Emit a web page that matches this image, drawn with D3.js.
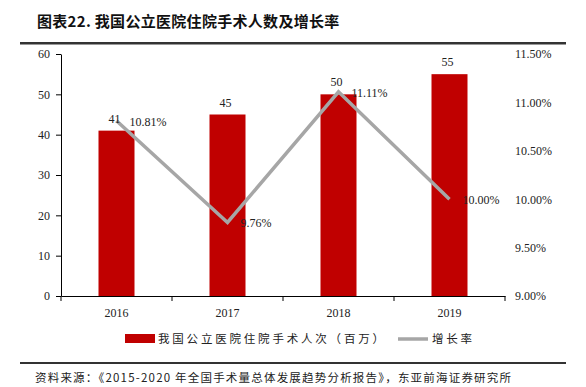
<!DOCTYPE html>
<html><head><meta charset="utf-8">
<script src="https://cdn.jsdelivr.net/npm/d3@7"></script>
<style>body{margin:0;background:#fff}svg{display:block}</style>
</head><body>
<script>
const categories = ["2016","2017","2018","2019"];
const surgeries = [41,45,50,55];
const growth = [10.81,9.76,11.11,10.00];
const leftTicks = [0,10,20,30,40,50,60];
const rightTicks = [9.0,9.5,10.0,10.5,11.0,11.5];
const titleText = "图表22. 我国公立医院住院手术人数及增长率";
const seriesNames = ["我国公立医院住院手术人次（百万）","增长率"];
const sourceText = "资料来源：《2015-2020 年全国手术量总体发展趋势分析报告》，东亚前海证券研究所";

const W=586,H=387;
const svg=d3.select("body").append("svg").attr("width",W).attr("height",H);
const serif="'Liberation Serif','Times New Roman',serif";
const cjk="'Noto Sans CJK SC',sans-serif";
const m={l:61,r:505,t:54,b:296};

// title
svg.append("text").attr("x",37).attr("y",27).attr("font-family",cjk).attr("font-weight","bold")
  .attr("font-size",15).attr("letter-spacing",0.3).attr("fill","#111").text(titleText);
svg.append("rect").attr("x",20).attr("y",42).attr("width",546).attr("height",2.5).attr("fill","#333");

const x=d3.scaleBand().domain(categories).range([m.l,m.r]);
const y=d3.scaleLinear().domain([0,60]).range([m.b,m.t]);
const y2=d3.scaleLinear().domain([9,11.5]).range([m.b,m.t]);

// bars
svg.selectAll(".bar").data(surgeries).join("rect")
  .attr("x",(d,i)=>x(categories[i])+x.bandwidth()/2-18).attr("width",36)
  .attr("y",d=>y(d)).attr("height",d=>y(0)-y(d)).attr("fill","#c00000");

// left axis
const ga=svg.append("g").attr("transform",`translate(${m.l},0)`)
  .call(d3.axisLeft(y).tickValues(leftTicks).tickSize(5).tickSizeOuter(0).tickPadding(6));
ga.select(".domain").attr("stroke","#000");
ga.selectAll("line").attr("stroke","#000");
ga.selectAll("text").attr("font-family",serif).attr("font-size",12).attr("fill","#222");

// bottom axis
const gb=svg.append("g").attr("transform",`translate(0,${m.b})`)
  .call(d3.axisBottom(x).tickSize(0).tickPadding(12));
gb.select(".domain").attr("stroke","#000");
gb.selectAll("text").attr("font-family",serif).attr("font-size",12).attr("fill","#222");
const edges=categories.map(c=>x(c)).concat([m.r]);
svg.selectAll(".bt").data(edges).join("line").attr("x1",d=>d).attr("x2",d=>d)
  .attr("y1",m.b).attr("y2",m.b+5).attr("stroke","#000");

// right axis labels
const gr=svg.append("g").attr("transform",`translate(${m.r+10},0)`)
  .call(d3.axisRight(y2).tickValues(rightTicks).tickSize(0).tickPadding(0).tickFormat(d=>d.toFixed(2)+"%"));
gr.select(".domain").remove();
gr.selectAll("text").attr("font-family",serif).attr("font-size",12).attr("fill","#222");

// line
const line=d3.line().x((d,i)=>x(categories[i])+x.bandwidth()/2).y(d=>y2(d));
svg.append("path").datum(growth).attr("d",line).attr("fill","none")
  .attr("stroke","#a6a6a6").attr("stroke-width",3.5);

// bar labels
svg.selectAll(".bl").data(surgeries).join("text")
  .attr("x",(d,i)=>x(categories[i])+x.bandwidth()/2-2).attr("y",d=>y(d)-8)
  .attr("text-anchor","middle").attr("font-family",serif).attr("font-size",12).attr("fill","#222").text(d=>d);
// line labels
svg.selectAll(".ll").data(growth).join("text")
  .attr("x",(d,i)=>x(categories[i])+x.bandwidth()/2+13).attr("y",d=>y2(d)+5)
  .attr("font-family",serif).attr("font-size",12).attr("fill","#222").text(d=>d.toFixed(2)+"%");

// legend
svg.append("rect").attr("x",125).attr("y",334).attr("width",30).attr("height",9).attr("fill","#c00000");
svg.append("text").attr("x",158).attr("y",343).attr("font-family",cjk).attr("font-size",11.5)
  .attr("letter-spacing",2.8).attr("fill","#222").text(seriesNames[0]);
svg.append("line").attr("x1",398).attr("x2",428).attr("y1",339).attr("y2",339).attr("stroke","#a6a6a6").attr("stroke-width",3.5);
svg.append("text").attr("x",432).attr("y",343).attr("font-family",cjk).attr("font-size",11.5)
  .attr("letter-spacing",2.8).attr("fill","#222").text(seriesNames[1]);

// bottom rule & source
svg.append("rect").attr("x",20).attr("y",362).attr("width",546).attr("height",2).attr("fill","#333");
svg.append("text").attr("x",35).attr("y",382).attr("font-family",cjk).attr("font-size",11.5)
  .attr("letter-spacing",1.2).attr("fill","#222").text(sourceText);
</script>
</body></html>
